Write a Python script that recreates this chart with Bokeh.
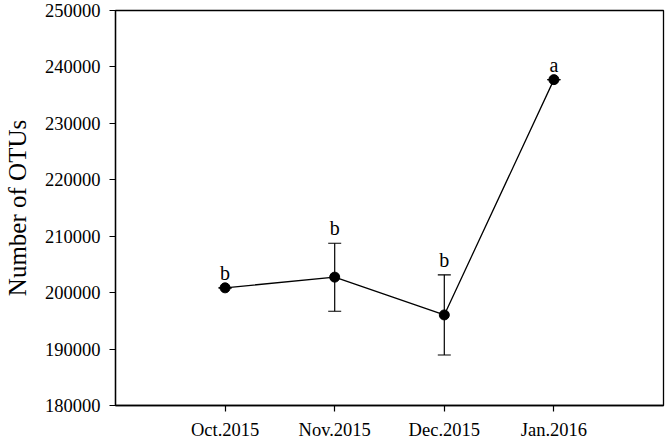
from bokeh.plotting import figure
from bokeh.models import ColumnDataSource, Whisker, FixedTicker, Range1d, TeeHead, LabelSet
from bokeh.embed import file_html
from bokeh.resources import INLINE

months = ["Oct.2015", "Nov.2015", "Dec.2015", "Jan.2016"]
otus = [200850, 202750, 196050, 237750]
err_upper = [200850, 208750, 203150, 237750]
err_lower = [200850, 196700, 188950, 237750]
letters = ["b", "b", "b", "a"]
y_ticks = [180000, 190000, 200000, 210000, 220000, 230000, 240000, 250000]

xpos = list(range(1, len(months) + 1))
src = ColumnDataSource(dict(x=xpos, y=otus, up=err_upper, lo=err_lower, lab=letters))

FONT = "Liberation Serif"

p = figure(width=666, height=442, output_backend="svg", toolbar_location=None,
           x_range=Range1d(0, 5), y_range=Range1d(180000, 250000),
           min_border_left=111, min_border_right=3, min_border_top=10, min_border_bottom=34)
p.grid.visible = False
p.outline_line_color = "black"
p.outline_line_width = 1.3
p.background_fill_color = "white"
p.border_fill_color = "white"

p.xaxis.ticker = FixedTicker(ticks=xpos)
p.xaxis.major_label_overrides = {i: m for i, m in zip(xpos, months)}
p.yaxis.ticker = FixedTicker(ticks=y_ticks)
p.yaxis.major_label_overrides = {t: str(t) for t in y_ticks}

for ax in (p.xaxis, p.yaxis):
    ax.axis_line_color = "black"
    ax.axis_line_width = 1.3
    ax.major_tick_line_color = "black"
    ax.major_tick_line_width = 1.2
    ax.major_tick_in = 0
    ax.major_tick_out = 6
    ax.minor_tick_line_color = None
    ax.major_label_text_font = FONT
    ax.major_label_text_font_size = "18.5px"
    ax.major_label_text_color = "black"

p.xaxis.major_label_standoff = 8
p.yaxis.major_label_standoff = 9
p.yaxis.axis_label = "Number of OTUs"
p.yaxis.axis_label_text_font = FONT
p.yaxis.axis_label_text_font_size = "25px"
p.yaxis.axis_label_text_font_style = "normal"
p.yaxis.axis_label_text_color = "black"
p.yaxis.axis_label_standoff = 11

p.line("x", "y", source=src, line_color="black", line_width=1.3)

wh = Whisker(base="x", upper="up", lower="lo", source=src,
             line_color="black", line_width=1.2,
             upper_head=TeeHead(size=13, line_color="black", line_width=1.2),
             lower_head=TeeHead(size=13, line_color="black", line_width=1.2))
p.add_layout(wh)

p.scatter("x", "y", source=src, size=10, fill_color="black", line_color="black", marker="circle")

labels = LabelSet(x="x", y="up", text="lab", source=src, text_font=FONT, text_font_size="20px",
                  text_align="center", text_baseline="alphabetic", y_offset=8, text_color="black")
p.add_layout(labels)

open("out.html", "w").write(file_html(p, INLINE))
